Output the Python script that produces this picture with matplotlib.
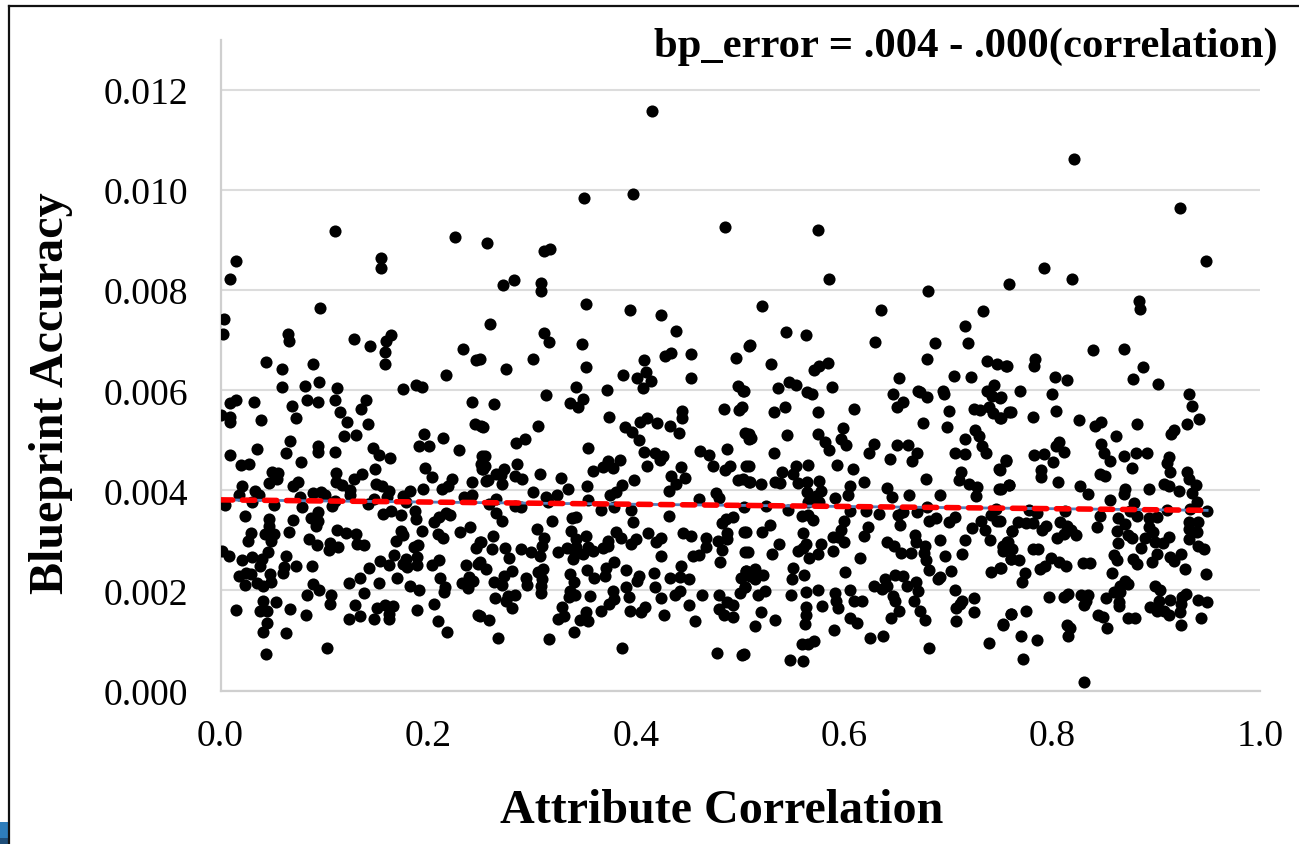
import numpy as np
import matplotlib
matplotlib.use("Agg")
import matplotlib.pyplot as plt
from matplotlib.patches import Rectangle

# (attribute correlation, blueprint accuracy x 1000)
points_0_25 = [(.066,6.99),(.044,6.57),(.059,6.42),(.089,6.53),(.128,7.03),(.144,6.88),(.159,6.99),(.158,6.77),(.158,6.53),(.233,6.83),(.246,6.61),(.217,6.31),
(.059,6.07),(.081,6.09),(.095,6.17),(.112,6.05),(.176,6.03),(.188,6.10),(.194,6.07),(.015,5.81),(.009,5.74),(.032,5.77),(.083,5.80),(.094,5.76),(.110,5.80),(.140,5.81),(.135,5.63),(.069,5.68),(.115,5.56),(.242,5.76),
(.000,5.51),(.009,5.47),(.009,5.37),(.039,5.41),(.073,5.45),(.122,5.36),(.142,5.33),(.245,5.32),(.251,5.28),(.196,5.13),(.214,5.05),(.119,5.08),(.130,5.10),(.067,4.98),(.191,4.89),(.201,4.89),(.229,4.80),(.035,4.83),(.094,4.88),(.094,4.77),(.063,4.75),(.110,4.77),(.147,4.84),(.152,4.71),(.163,4.65),(.009,4.70),(.020,4.51),(.027,4.53),(.077,4.57),(.252,4.69),(.251,4.53),(.252,4.43),(.197,4.45),(.149,4.43),(.111,4.35),(.136,4.33),(.128,4.23),(.203,4.27),(.223,4.23),(.055,4.35),(.050,4.36),(.054,4.23),(.047,4.15),(.075,4.17),(.070,4.09),(.111,4.17),(.117,4.11),(.150,4.13),(.155,4.08),(.162,3.99),(.125,4.01),(.125,3.91),(.195,4.03),(.219,4.08),(.213,4.03),(.242,4.16),(.255,4.19),
(.021,4.09),(.018,3.91),(.033,3.98),(.037,3.91),(.030,3.76),(.004,3.71),(.089,3.95),(.097,3.97),(.101,3.91),(.076,3.86),(.078,3.66),(.051,3.71),(.107,3.69),(.110,3.79),(.148,3.83),(.160,3.86),(.142,3.73),(.182,3.99),(.176,3.89),(.178,3.76),(.234,3.86),(.242,3.91),(.024,3.49),(.070,3.41),(.047,3.43),(.047,3.29),(.094,3.56),(.087,3.45),(.094,3.38),(.092,3.28),(.156,3.53),(.164,3.59),(.174,3.51),(.187,3.59),(.188,3.43),(.205,3.36),(.210,3.47),(.217,3.55),(.221,3.51),
(.029,3.15),(.026,2.99),(.043,3.13),(.051,3.13),(.049,2.99),(.066,3.16),(.085,3.03),(.093,2.91),(.112,3.21),(.121,3.15),(.130,3.13),(.131,2.93),(.138,2.91),(.104,2.81),(.105,2.95),(.113,2.86),(.174,3.19),(.176,3.11),(.169,2.99),(.194,3.19),(.209,3.12),(.214,3.05),(.230,3.16),(.240,3.26),(.250,2.96),(.246,2.84),(.190,2.91),(.186,2.87),(.001,2.79),(.008,2.69),(.046,2.77),(.063,2.69),(.021,2.61),(.030,2.66),(.040,2.63),(.038,2.49),(.073,2.49),(.088,2.49),(.061,2.46),(.060,2.34),(.048,2.33),(.018,2.29),(.025,2.34),(.029,2.33),(.024,2.11),(.035,2.14),(.041,2.09),(.049,2.16),(.167,2.71),(.153,2.59),(.162,2.51),(.178,2.63),(.176,2.53),(.179,2.46),(.189,2.66),(.189,2.51),(.203,2.51),(.210,2.61),(.236,2.51),(.248,2.53),(.143,2.44),(.134,2.24),(.124,2.15),(.152,2.14),(.170,2.24),(.211,2.25),(.182,2.09),(.191,2.01),(.216,2.06),(.215,1.96),(.232,2.14),(.239,2.26),(.243,2.19),(.238,2.04),(.089,2.13),(.095,2.01),(.106,1.91),(.105,1.73),(.083,1.90),(.138,1.95),(.205,1.73),(.041,1.79),(.053,1.77),(.038,1.59),(.045,1.59),(.015,1.61),(.067,1.63),(.082,1.51),(.129,1.71),(.134,1.49),(.124,1.43),(.148,1.43),(.151,1.64),(.158,1.71),(.166,1.69),(.162,1.53),(.162,1.43),(.189,1.61),(.209,1.38),(.218,1.16),(.248,1.51),(.045,1.34),(.041,1.17),(.063,1.15),(.044,.72),(.102,.84),
(.003,7.42),(.002,7.12),(.009,8.22),(.015,8.58),(.065,7.12),(.096,7.64),(.110,9.18),(.154,8.64),(.154,8.44),(.164,7.10),(.226,9.06)]

points_25_51 = [(.256,8.94),(.259,7.32),(.272,8.10),(.282,8.20),(.311,7.14),(.308,8.14),(.308,7.98),(.311,8.78),(.317,8.82),(.350,9.84),(.352,7.72),(.394,7.60),(.397,9.92),(.415,11.58),(.424,7.50),(.438,7.18),(.485,9.26),
(.316,6.96),(.348,6.93),(.301,6.63),(.275,6.43),(.352,6.47),(.250,6.63),(.387,6.31),(.407,6.61),(.428,6.69),(.433,6.75),(.453,6.73),(.496,6.65),(.508,6.89),(.401,6.24),(.409,6.36),(.414,6.18),(.406,6.04),(.453,6.25),(.342,6.06),(.372,6.01),(.313,5.91),(.349,5.83),(.336,5.75),(.344,5.66),(.263,5.73),(.498,6.09),(.503,5.99),(.484,5.63),(.499,5.61),(.502,5.66),(.374,5.46),(.404,5.37),(.410,5.45),(.420,5.34),(.432,5.29),(.444,5.59),(.444,5.45),(.253,5.27),(.305,5.29),(.389,5.27),(.396,5.16),(.403,5.01),(.441,5.15),(.505,5.14),(.508,5.03),(.293,5.03),(.284,4.95),(.354,4.85),(.407,4.77),(.418,4.75),(.423,4.61),(.426,4.69),(.461,4.79),(.470,4.70),(.487,4.83),(.474,4.48),(.485,4.41),(.490,4.48),(.506,4.49),(.254,4.69),(.254,4.49),(.253,4.43),(.285,4.53),(.273,4.43),(.265,4.33),(.270,4.31),(.257,4.20),(.271,4.12),(.283,4.28),(.290,4.23),(.307,4.33),(.328,4.25),(.358,4.39),(.368,4.46),(.373,4.58),(.378,4.44),(.384,4.61),(.410,4.48),(.443,4.47),(.433,4.29),(.447,4.25),(.438,4.13),(.398,4.20),(.498,4.20),(.503,4.23),(.508,4.16),
(.334,4.02),(.353,4.09),(.386,4.11),(.380,3.97),(.375,3.91),(.301,3.96),(.324,3.91),(.313,3.87),(.265,3.83),(.431,3.99),(.477,3.94),(.480,3.85),(.460,3.83),(.354,3.80),(.315,3.76),(.283,3.69),(.289,3.67),(.258,3.73),(.366,3.61),(.379,3.66),(.395,3.60),(.504,3.67),(.265,3.54),(.271,3.38),(.319,3.39),(.338,3.44),(.342,3.46),(.397,3.36),(.431,3.49),(.493,3.46),(.486,3.43),(.482,3.35),(.304,3.22),(.337,3.19),(.380,3.16),(.411,3.15),(.445,3.15),(.504,3.17),(.352,3.09),(.262,3.08),(.311,3.05),(.342,3.03),(.385,3.04),(.400,3.03),(.424,3.04),(.453,3.08),(.467,3.05),(.487,3.14),(.487,3.03),(.419,2.96),(.395,2.93),(.373,2.99),(.479,2.99),(.251,2.96),(.261,2.83),(.274,2.85),(.289,2.83),(.309,2.89),(.299,2.77),(.307,2.69),(.325,2.76),(.333,2.84),(.342,2.86),(.341,2.73),(.354,2.86),(.349,2.73),(.358,2.79),(.368,2.84),(.373,2.88),(.339,2.63),(.278,2.65),(.467,2.86),(.482,2.81),(.505,2.77),(.424,2.68),(.455,2.69),(.460,2.71),(.481,2.57),(.379,2.57),(.443,2.48),(.250,2.56),(.255,2.42),(.280,2.38),(.273,2.29),(.263,2.17),(.271,2.11),(.294,2.24),(.295,2.11),(.310,2.43),(.305,2.37),(.309,2.23),(.308,2.08),(.308,1.95),(.353,2.40),(.371,2.44),(.359,2.24),(.370,2.28),(.390,2.41),(.336,2.32),(.340,2.16),(.336,1.99),(.341,1.91),(.335,1.86),(.355,1.89),(.403,2.28),(.401,2.19),(.417,2.35),(.418,2.06),(.432,2.25),(.442,2.26),(.451,2.23),(.501,2.25),(.506,2.39),(.505,2.06),(.500,1.95),(.390,2.06),(.378,1.98),(.393,1.87),(.379,1.83),(.374,1.73),(.424,1.85),(.437,1.91),(.442,1.98),(.463,1.91),(.480,1.90),(.264,1.85),(.277,1.89),(.283,1.91),(.275,1.79),(.280,1.64),(.451,1.71),(.493,1.71),(.487,1.76),(.480,1.63),(.484,1.51),(.493,1.47),(.329,1.66),(.325,1.43),(.330,1.49),(.352,1.56),(.346,1.41),(.354,1.38),(.366,1.59),(.394,1.59),(.408,1.66),(.405,1.56),(.427,1.51),(.456,1.39),(.250,1.49),(.258,1.41),(.267,1.04),(.316,1.03),(.340,1.16),(.386,.84),(.478,.75),(.502,.71)]

points_51_76 = [(.521,7.68),(.544,7.16),(.575,9.20),(.585,8.22),(.635,7.60),(.681,7.98),(.716,7.28),(.734,7.58),(.563,7.10),
(.509,6.91),(.630,6.97),(.687,6.95),(.719,6.95),(.530,6.53),(.584,6.55),(.576,6.49),(.571,6.41),(.680,6.63),(.737,6.59),(.747,6.53),(.757,6.48),(.653,6.24),(.706,6.28),(.722,6.26),(.536,6.05),(.547,6.16),(.554,6.11),(.588,6.06),(.564,5.96),(.569,5.92),(.504,5.99),(.647,5.93),(.671,5.99),(.673,5.97),(.680,5.87),(.695,5.99),(.696,5.93),(.737,5.99),(.744,6.11),(.742,5.88),(.750,5.85),(.657,5.76),(.651,5.66),(.543,5.67),(.532,5.56),(.575,5.57),(.609,5.62),(.701,5.59),(.725,5.62),(.731,5.61),(.739,5.66),(.743,5.55),(.750,5.44),(.759,5.56),(.676,5.35),(.699,5.27),(.599,5.25),(.726,5.21),(.730,5.09),(.716,5.03),(.545,5.10),(.575,5.13),(.508,5.13),(.510,5.04),(.597,5.03),(.602,4.91),(.582,4.97),(.585,4.81),(.629,4.93),(.624,4.75),(.651,4.91),(.661,4.90),(.670,4.74),(.665,4.58),(.644,4.63),(.733,4.89),(.736,4.75),(.707,4.74),(.716,4.73),(.532,4.75),(.756,4.60),(.749,4.43),(.508,4.49),(.554,4.49),(.565,4.51),(.593,4.51),(.608,4.43),(.551,4.33),(.540,4.36),(.538,4.15),(.533,4.16),(.509,4.16),(.520,4.12),(.712,4.37),(.710,4.20),(.679,4.23),(.556,4.15),(.564,4.17),(.576,4.19),(.619,4.16),(.641,4.04),(.720,4.13),(.728,4.07),(.759,4.11),(.749,4.03),(.606,4.08),
(.578,3.99),(.564,3.97),(.604,3.91),(.646,3.86),(.662,3.90),(.692,3.90),(.727,3.89),(.591,3.85),(.573,3.89),(.565,3.77),(.576,3.76),(.525,3.69),(.546,3.61),(.606,3.58),(.621,3.59),(.633,3.53),(.652,3.51),(.657,3.56),(.670,3.57),(.680,3.66),(.746,3.63),(.741,3.51),(.559,3.48),(.565,3.51),(.570,3.41),(.600,3.39),(.654,3.31),(.682,3.39),(.688,3.45),(.707,3.46),(.701,3.37),(.732,3.39),(.747,3.38),(.529,3.31),(.521,3.16),(.506,3.17),(.560,3.15),(.597,3.21),(.623,3.27),(.619,3.09),(.723,3.25),(.735,3.21),(.761,3.19),(.589,3.06),(.594,3.07),(.600,2.96),(.668,3.11),(.669,2.96),(.692,3.01),(.716,3.01),(.740,3.01),(.641,2.96),(.648,2.88),(.537,2.93),(.563,2.93),(.578,2.93),(.556,2.79),(.560,2.84),(.575,2.73),(.566,2.65),(.589,2.79),(.531,2.73),(.507,2.76),(.655,2.75),(.664,2.75),(.678,2.88),(.677,2.75),(.679,2.61),(.697,2.68),(.713,2.73),(.753,2.88),(.758,2.96),(.753,2.79),(.760,2.63),(.615,2.65),(.551,2.45),(.550,2.23),(.561,2.31),(.601,2.36),(.682,2.40),(.703,2.39),(.741,2.36),(.750,2.45),(.690,2.23),(.692,2.26),(.514,2.43),(.506,2.39),(.514,2.23),(.522,2.31),(.509,2.29),(.649,2.31),(.657,2.29),(.639,2.23),(.629,2.09),(.636,2.03),(.641,2.09),(.660,2.09),(.669,2.16),(.671,1.98),(.505,2.06),(.517,1.91),(.524,1.99),(.549,1.91),(.563,1.96),(.575,2.01),(.591,1.95),(.606,2.00),(.707,2.01),(.647,1.89),(.649,1.78),(.667,1.79),(.592,1.79),(.594,1.64),(.609,1.78),(.617,1.78),(.579,1.69),(.563,1.66),(.563,1.51),(.562,1.33),(.713,1.79),(.711,1.73),(.708,1.65),(.725,1.85),(.725,1.56),(.708,1.39),(.653,1.59),(.645,1.44),(.673,1.58),(.678,1.41),(.520,1.56),(.533,1.41),(.514,1.29),(.606,1.44),(.612,1.34),(.590,1.21),(.625,1.05),(.637,1.09),(.559,.93),(.565,.93),(.571,.99),(.682,.84),(.739,.94),(.760,1.53),(.753,1.32),(.548,.61),(.560,.59),(.504,.73)]

points_76_95 = [(.759,8.12),(.792,8.44),(.819,8.22),(.821,10.62),(.884,7.78),(.885,7.62),(.923,9.64),(.948,8.58),
(.839,6.81),(.869,6.83),(.784,6.63),(.783,6.49),(.756,6.48),(.887,6.47),(.803,6.27),(.814,6.21),(.878,6.22),(.902,6.13),(.769,5.99),(.800,5.93),(.932,5.92),(.935,5.69),(.751,5.86),(.804,5.58),(.760,5.56),(.751,5.44),(.782,5.46),(.826,5.40),(.841,5.29),(.847,5.37),(.882,5.33),(.941,5.42),(.930,5.32),(.917,5.20),(.914,5.13),(.861,5.09),(.807,4.97),(.804,4.89),(.811,4.76),(.847,4.92),(.850,4.75),(.856,4.58),(.869,4.69),(.881,4.75),(.891,4.74),(.783,4.71),(.792,4.72),(.801,4.56),(.912,4.67),(.911,4.54),(.913,4.36),(.756,4.59),(.750,4.41),(.789,4.41),(.789,4.26),(.877,4.45),(.846,4.33),(.851,4.29),(.930,4.36),(.932,4.23),(.938,4.11),(.806,4.16),(.759,4.11),(.751,4.03),(.827,4.08),(.835,3.93),(.870,4.03),(.869,3.93),(.893,4.02),(.908,4.13),(.912,4.08),(.922,3.99),(.935,3.94),(.856,3.80),(.879,3.74),(.939,3.76),
(.778,3.61),(.785,3.55),(.812,3.59),(.911,3.61),(.875,3.59),(.949,3.58),(.933,3.63),(.846,3.48),(.882,3.49),(.863,3.44),(.893,3.44),(.901,3.47),(.750,3.39),(.767,3.37),(.775,3.35),(.782,3.34),(.794,3.29),(.808,3.36),(.814,3.29),(.870,3.33),(.940,3.36),(.932,3.37),(.843,3.27),(.761,3.19),(.790,3.21),(.818,3.21),(.893,3.26),(.932,3.23),(.862,3.19),(.897,3.17),(.939,3.16),(.823,3.11),(.805,3.04),(.811,3.13),(.873,3.11),(.877,3.04),(.889,3.04),(.912,3.06),(.932,3.03),(.863,2.95),(.899,2.97),(.907,2.95),(.886,2.85),(.940,2.88),(.946,2.83),(.757,2.96),(.753,2.86),(.761,2.83),(.782,2.83),(.786,2.83),(.901,2.73),(.924,2.73),(.913,2.66),(.917,2.59),(.860,2.71),(.862,2.61),(.878,2.63),(.882,2.53),(.896,2.57),(.799,2.64),(.807,2.56),(.813,2.49),(.793,2.49),(.788,2.43),(.830,2.54),(.836,2.54),(.760,2.63),(.768,2.61),(.751,2.44),(.774,2.34),(.771,2.17),(.858,2.35),(.928,2.43),(.948,2.33),(.870,2.19),(.873,2.13),(.865,2.09),(.899,2.08),(.904,2.01),(.865,1.96),(.860,1.96),(.815,1.92),(.811,1.87),(.797,1.86),(.828,1.91),(.835,1.91),(.833,1.79),(.831,1.71),(.852,1.85),(.864,1.76),(.864,1.68),(.929,1.92),(.925,1.86),(.913,1.81),(.903,1.79),(.940,1.81),(.949,1.77),(.924,1.73),(.894,1.66),(.901,1.58),(.908,1.59),(.912,1.51),(.923,1.56),(.943,1.44),(.924,1.30),(.775,1.59),(.760,1.53),(.844,1.51),(.849,1.46),(.873,1.45),(.880,1.44),(.753,1.31),(.853,1.25),(.814,1.31),(.817,1.25),(.815,1.09),(.770,1.09),(.785,1.00),(.772,.63),(.831,.16)]

trend_corr = [0.0, 0.951]
trend_acc = [0.00381, 0.00360]
x_ticks = [0.0, 0.2, 0.4, 0.6, 0.8, 1.0]
y_ticks = [0.000, 0.002, 0.004, 0.006, 0.008, 0.010, 0.012]
equation = "bp_error = .004 - .000(correlation)"
x_title = "Attribute Correlation"
y_title = "Blueprint Accuracy"

all_points = np.array(points_0_25 + points_25_51 + points_51_76 + points_76_95)
corr = all_points[:, 0]
acc = all_points[:, 1] / 1000

plt.rcParams["font.family"] = ["Liberation Serif", "DejaVu Serif"]
W, H = 1299, 845
fig = plt.figure(figsize=(W / 100, H / 100), dpi=100, facecolor="white")
ax = fig.add_axes([220.5 / W, 1 - 691.5 / H, (1260 - 220.5) / W, (691.5 - 41) / H])
ax.set_xlim(0, 1)
ax.set_ylim(0, 0.013)
ax.set_axisbelow(True)
ax.yaxis.grid(True, color="#DCDCDC", linewidth=1.5)
ax.xaxis.grid(False)
for s in ("top", "right"):
    ax.spines[s].set_visible(False)
for s in ("left", "bottom"):
    ax.spines[s].set_color("#CFCFCF")
    ax.spines[s].set_linewidth(1.6)
ax.set_xticks(x_ticks, [f"{v:.1f}" for v in x_ticks])
ax.set_yticks(y_ticks, [f"{v:.3f}" for v in y_ticks])
ax.tick_params(axis="both", length=0, labelsize=27.2, colors="black")
ax.tick_params(axis="y", pad=23)
ax.tick_params(axis="x", pad=20)

ax.scatter(corr, acc, s=76, color="black", linewidths=0, zorder=3)
ax.plot(trend_corr, trend_acc, color="#4F81BD", lw=2.0, ls=(3.2, (2.5, 5.42)),
        dash_capstyle="butt", zorder=4)
ax.plot(trend_corr, trend_acc, color="#FF0000", lw=4.0, ls=(0, (2.2, 1.76)),
        dash_capstyle="round", zorder=5)

fig.text(1278 / W, 1 - 47 / H, equation, ha="right", va="center", fontsize=30.7, fontweight="bold")
fig.text(722 / W, 1 - 811 / H, x_title, ha="center", va="center", fontsize=34.6, fontweight="bold")
fig.text(51 / W, 1 - 393 / H, y_title, ha="center", va="center", rotation=90, fontsize=34.6, fontweight="bold")

# outer chart frame and the sliver of the page behind it
fig.add_artist(plt.Line2D([8.5 / W, 8.5 / W], [0, 1 - 6.5 / H], color="#111111", lw=1.6))
fig.add_artist(plt.Line2D([8.5 / W, 1], [1 - 6.5 / H, 1 - 6.5 / H], color="#111111", lw=1.6))
fig.add_artist(Rectangle((0, 0), 7.5 / W, 22 / H, transform=fig.transFigure, color="#2E7DBB", lw=0))
fig.add_artist(Rectangle((0, 0), 7.5 / W, 6 / H, transform=fig.transFigure, color="#1F4E79", lw=0))

fig.savefig("out.png", dpi=100)
